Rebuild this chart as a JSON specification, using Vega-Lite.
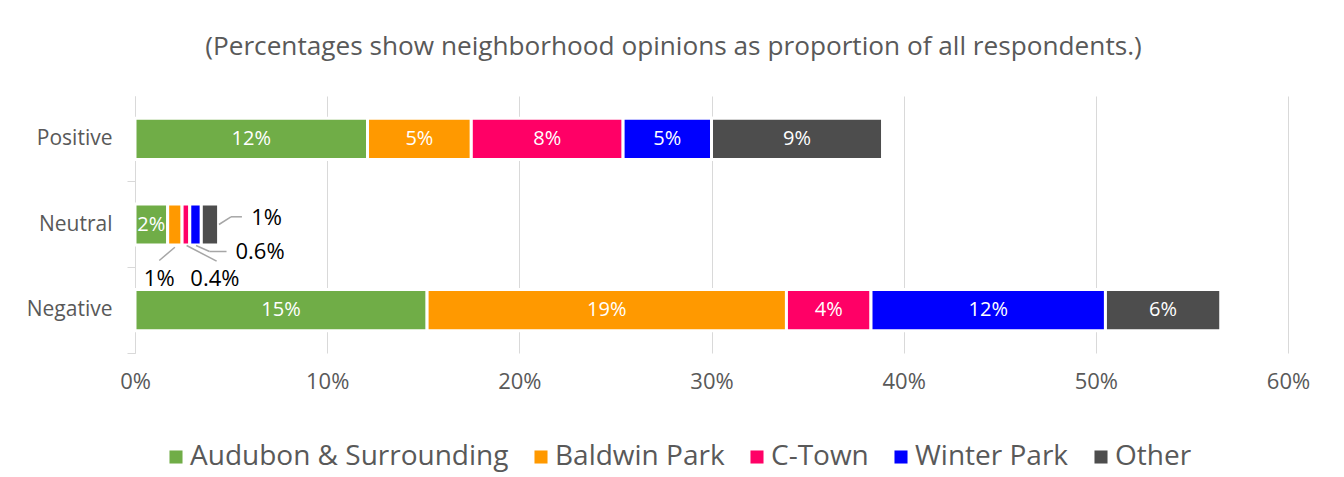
{
  "$schema": "https://vega.github.io/schema/vega-lite/v6.json",
  "width": 1153,
  "height": 257,
  "autosize": "none",
  "padding": {"left": 135, "top": 96, "right": 56, "bottom": 124},
  "background": "white",
  "config": {"view": {"stroke": null}, "font": "Open Sans"},
  "title": {
    "text": "(Percentages show neighborhood opinions as proportion of all respondents.)",
    "fontSize": 26.2, "font": "Open Sans", "fontWeight": "normal", "color": "#595959",
    "anchor": "middle", "dx": -38, "offset": 15, "baseline": "alphabetic"
  },
  "data": {"values": [
    {"opinion": "Positive", "hood": "Audubon & Surrounding", "pct": 12.1, "label": "12%"},
    {"opinion": "Positive", "hood": "Baldwin Park", "pct": 5.4, "label": "5%"},
    {"opinion": "Positive", "hood": "C-Town", "pct": 7.9, "label": "8%"},
    {"opinion": "Positive", "hood": "Winter Park", "pct": 4.6, "label": "5%"},
    {"opinion": "Positive", "hood": "Other", "pct": 8.9, "label": "9%"},
    {"opinion": "Neutral", "hood": "Audubon & Surrounding", "pct": 1.7, "label": "2%"},
    {"opinion": "Neutral", "hood": "Baldwin Park", "pct": 0.75, "label": "1%"},
    {"opinion": "Neutral", "hood": "C-Town", "pct": 0.4, "label": "0.4%"},
    {"opinion": "Neutral", "hood": "Winter Park", "pct": 0.6, "label": "0.6%"},
    {"opinion": "Neutral", "hood": "Other", "pct": 0.9, "label": "1%"},
    {"opinion": "Negative", "hood": "Audubon & Surrounding", "pct": 15.2, "label": "15%"},
    {"opinion": "Negative", "hood": "Baldwin Park", "pct": 18.7, "label": "19%"},
    {"opinion": "Negative", "hood": "C-Town", "pct": 4.4, "label": "4%"},
    {"opinion": "Negative", "hood": "Winter Park", "pct": 12.2, "label": "12%"},
    {"opinion": "Negative", "hood": "Other", "pct": 6.0, "label": "6%"}
  ]},
  "transform": [
    {"calculate": "indexof(['Audubon & Surrounding','Baldwin Park','C-Town','Winter Park','Other'], datum.hood)", "as": "k"},
    {"stack": "pct", "groupby": ["opinion"], "sort": [{"field": "k", "order": "ascending"}], "as": ["x0", "x1"]},
    {"calculate": "(datum.x0 + datum.x1) / 2", "as": "xm"}
  ],
  "encoding": {
    "y": {
      "field": "opinion", "type": "nominal", "sort": ["Positive", "Neutral", "Negative"],
      "scale": {"paddingInner": 0, "paddingOuter": 0},
      "axis": {"title": null, "domainColor": "#D9D9D9", "domainWidth": 1, "tickColor": "#D9D9D9", "tickSize": 8, "bandPosition": 1, "labelFontSize": 21, "labelColor": "#595959", "labelPadding": 15, "labelFont": "Open Sans"}
    },
    "x": {
      "field": "xm", "type": "quantitative",
      "scale": {"domain": [0, 60], "nice": false},
      "axis": {"title": null, "values": [0, 10, 20, 30, 40, 50, 60], "labelExpr": "datum.value + '%'", "labelFlush": false, "grid": true, "gridColor": "#D9D9D9", "domain": false, "ticks": false, "labelFontSize": 22, "labelColor": "#595959", "labelPadding": 18, "labelFont": "Open Sans"}
    }
  },
  "layer": [
    {
      "mark": {"type": "bar", "height": {"band": 0.48}, "stroke": "white", "strokeWidth": 3},
      "encoding": {
        "x": {
          "field": "x0", "type": "quantitative",
          "scale": {"domain": [0, 60], "nice": false},
          "axis": {"title": null, "values": [0, 10, 20, 30, 40, 50, 60], "labelExpr": "datum.value + '%'", "labelFlush": false, "grid": true, "gridColor": "#D9D9D9", "domain": false, "ticks": false, "labelFontSize": 22, "labelColor": "#595959", "labelPadding": 18, "labelFont": "Open Sans"}
        },
        "x2": {"field": "x1"},
        "color": {
          "field": "hood", "type": "nominal",
          "scale": {"domain": ["Audubon & Surrounding", "Baldwin Park", "C-Town", "Winter Park", "Other"], "range": ["#70AD47", "#FF9900", "#FF0066", "#0000FF", "#4D4D4D"]},
          "legend": {"title": null, "orient": "none", "legendX": 27, "legendY": 347, "direction": "horizontal", "symbolType": "square", "symbolSize": 170, "symbolStrokeWidth": 0, "labelFontSize": 28, "labelColor": "#595959", "labelFont": "Open Sans", "labelOffset": 0, "columnPadding": 18, "labelLimit": 500, "padding": 0}
        }
      }
    },
    {
      "transform": [{"filter": "datum.opinion != 'Neutral' || datum.k == 0"}],
      "mark": {"type": "text", "color": "white", "fontSize": 20, "font": "Open Sans"},
      "encoding": {"text": {"field": "label"}}
    },
    {
      "transform": [{"filter": "datum.opinion == 'Neutral' && datum.k == 4"}],
      "mark": {"type": "rule", "color": "#A6A6A6", "strokeWidth": 1.5, "xOffset": 9, "x2Offset": 21, "yOffset": 0, "y2Offset": -7.7},
      "encoding": {"x2": {"field": "xm"}, "y2": {"field": "opinion"}}
    },
    {
      "transform": [{"filter": "datum.opinion == 'Neutral' && datum.k == 4"}],
      "mark": {"type": "rule", "color": "#A6A6A6", "strokeWidth": 1.5, "xOffset": 21, "x2Offset": 32, "yOffset": -7.7, "y2Offset": -7.7},
      "encoding": {"x2": {"field": "xm"}, "y2": {"field": "opinion"}}
    },
    {
      "transform": [{"filter": "datum.opinion == 'Neutral' && datum.k == 3"}],
      "mark": {"type": "rule", "color": "#A6A6A6", "strokeWidth": 1.5, "xOffset": 0.5, "x2Offset": 14, "yOffset": 21, "y2Offset": 27},
      "encoding": {"x2": {"field": "xm"}, "y2": {"field": "opinion"}}
    },
    {
      "transform": [{"filter": "datum.opinion == 'Neutral' && datum.k == 3"}],
      "mark": {"type": "rule", "color": "#A6A6A6", "strokeWidth": 1.5, "xOffset": 14, "x2Offset": 31, "yOffset": 27, "y2Offset": 27},
      "encoding": {"x2": {"field": "xm"}, "y2": {"field": "opinion"}}
    },
    {
      "transform": [{"filter": "datum.opinion == 'Neutral' && datum.k == 2"}],
      "mark": {"type": "rule", "color": "#A6A6A6", "strokeWidth": 1.5, "xOffset": 0.7, "x2Offset": 30.7, "yOffset": 21, "y2Offset": 36.7},
      "encoding": {"x2": {"field": "xm"}, "y2": {"field": "opinion"}}
    },
    {
      "transform": [{"filter": "datum.opinion == 'Neutral' && datum.k == 1"}],
      "mark": {"type": "rule", "color": "#A6A6A6", "strokeWidth": 1.5, "xOffset": 0, "x2Offset": -15.6, "yOffset": 22.7, "y2Offset": 36},
      "encoding": {"x2": {"field": "xm"}, "y2": {"field": "opinion"}}
    },
    {
      "transform": [{"filter": "datum.opinion == 'Neutral' && datum.k == 1"}],
      "mark": {"type": "text", "color": "black", "fontSize": 22, "font": "Open Sans", "dx": -15.7, "dy": 54},
      "encoding": {"text": {"field": "label"}}
    },
    {
      "transform": [{"filter": "datum.opinion == 'Neutral' && datum.k == 2"}],
      "mark": {"type": "text", "color": "black", "fontSize": 22, "font": "Open Sans", "dx": 29, "dy": 54},
      "encoding": {"text": {"field": "label"}}
    },
    {
      "transform": [{"filter": "datum.opinion == 'Neutral' && datum.k == 3"}],
      "mark": {"type": "text", "color": "black", "fontSize": 22, "font": "Open Sans", "dx": 64.5, "dy": 27},
      "encoding": {"text": {"field": "label"}}
    },
    {
      "transform": [{"filter": "datum.opinion == 'Neutral' && datum.k == 4"}],
      "mark": {"type": "text", "color": "black", "fontSize": 22, "font": "Open Sans", "dx": 56.7, "dy": -7},
      "encoding": {"text": {"field": "label"}}
    }
  ]
}
